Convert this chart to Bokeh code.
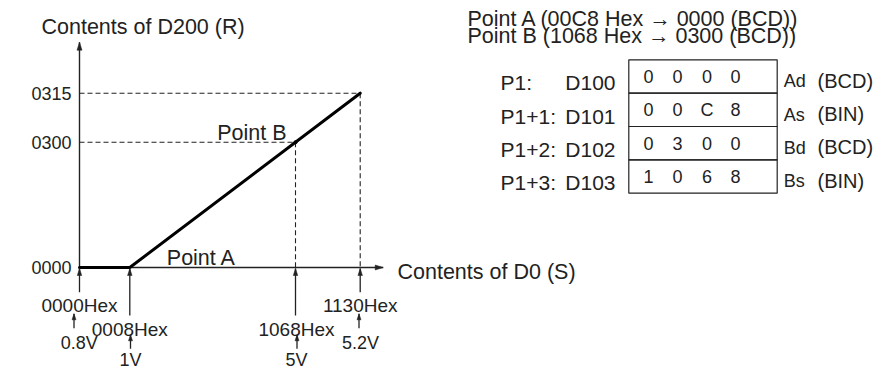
from bokeh.plotting import figure
from bokeh.models import Range1d
from bokeh.core.properties import value
from bokeh.embed import file_html
from bokeh.resources import INLINE

# ---------------- data ----------------
y_axis_title = "Contents of D200 (R)"
x_axis_title = "Contents of D0 (S)"
y_tick_labels = ["0000", "0300", "0315"]            # output levels (BCD)
hex_labels = ["0000Hex", "0008Hex", "1068Hex", "1130Hex"]
volt_labels = ["0.8V", "1V", "5V", "5.2V"]
curve_x_idx = [0, 1, 3]                              # conversion line (marker index)
curve_y_idx = [0, 0, 2]                              # conversion line (level index)
pointB_idx = (2, 1)
point_labels = ["Point A", "Point B"]
header_lines = ["Point A (00C8 Hex \u2192 0000 (BCD))",
                "Point B (1068 Hex \u2192 0300 (BCD))"]
reg_p = ["P1:", "P1+1:", "P1+2:", "P1+3:"]
reg_d = ["D100", "D101", "D102", "D103"]
reg_vals = [["0", "0", "0", "0"], ["0", "0", "C", "8"],
            ["0", "3", "0", "0"], ["1", "0", "6", "8"]]
reg_abbr = ["Ad", "As", "Bd", "Bs"]
reg_type = ["(BCD)", "(BIN)", "(BCD)", "(BIN)"]

# ---------------- layout ----------------
W, H = 884, 370
FONT = "Liberation Sans"
TXT = "#222222"
LINE = "#222222"
X_MARK = [79.0, 129.3, 295.0, 359.7]
Y_LEVEL = [267.0, 141.7, 92.7]
AX_X0, AX_Y0 = 79.0, 267.0
Y_AXIS_TOP = 41.7
X_AXIS_END = 382.7
BASE_SHIFT = 0.33   # empirical baseline correction (em)

p = figure(width=W, height=H, output_backend="svg", toolbar_location=None,
           x_range=Range1d(0, W), y_range=Range1d(H, 0),
           x_axis_type=None, y_axis_type=None, min_border=0,
           outline_line_color=None, background_fill_color="white",
           border_fill_color="white")
p.xgrid.visible = False
p.ygrid.visible = False


def txt(xs, ys, texts, size, align="left"):
    s = float(size.replace("px", ""))
    ys2 = [y - BASE_SHIFT * s for y in ys]
    p.text(x=xs, y=ys2, text=texts, text_font=value(FONT), text_font_size=size,
           text_align=align, text_baseline="alphabetic", text_color=TXT)


seg = {"x0": [], "y0": [], "x1": [], "y1": []}
heads = {"xs": [], "ys": []}


def arrow(x0, y0, x1, y1, hl, hw):
    seg["x0"].append(x0); seg["y0"].append(y0)
    seg["x1"].append(x1); seg["y1"].append(y1)
    dx, dy = x1 - x0, y1 - y0
    n = (dx * dx + dy * dy) ** 0.5
    ux, uy = dx / n, dy / n
    bx, by = x1 - ux * hl, y1 - uy * hl
    heads["xs"].append([x1, bx - uy * hw / 2, bx + uy * hw / 2])
    heads["ys"].append([y1, by + ux * hw / 2, by - ux * hw / 2])


# axes
arrow(AX_X0, AX_Y0 + 0.5, AX_X0, Y_AXIS_TOP, 8, 5)
arrow(AX_X0, AX_Y0, X_AXIS_END, AX_Y0, 8, 5)
p.segment(x0=seg["x0"], y0=seg["y0"], x1=seg["x1"], y1=seg["y1"],
          line_color=LINE, line_width=1.4)
p.patches(xs=heads["xs"], ys=heads["ys"], fill_color=LINE, line_color=LINE, line_width=0.5)

# dashed guides
gx0 = [AX_X0, AX_X0, X_MARK[2], X_MARK[3]]
gy0 = [Y_LEVEL[2], Y_LEVEL[1], Y_LEVEL[1], Y_LEVEL[2]]
gx1 = [X_MARK[3], X_MARK[2], X_MARK[2], X_MARK[3]]
gy1 = [Y_LEVEL[2], Y_LEVEL[1], AX_Y0, AX_Y0]
p.segment(x0=gx0, y0=gy0, x1=gx1, y1=gy1, line_color=LINE, line_width=1.1,
          line_dash="5 3")

# conversion line
cx = [X_MARK[i] for i in curve_x_idx]
cy = [Y_LEVEL[j] for j in curve_y_idx]
p.line(cx, cy, line_color="black", line_width=3, line_cap="round", line_join="round")
p.scatter([X_MARK[pointB_idx[0]]], [Y_LEVEL[pointB_idx[1]]], size=4,
          fill_color="black", line_color=None)

# marker arrows below the x axis
seg = {"x0": [], "y0": [], "x1": [], "y1": []}
heads = {"xs": [], "ys": []}
hex_base = [311.7, 335.0, 335.0, 311.7]
for i, xm in enumerate(X_MARK):
    arrow(xm, hex_base[i] - 20, xm, AX_Y0 + 1, 7, 4.5)
small_x = [73.5, 130.0, 296.5, 358.5]
small_y0 = [327.7, 348.3, 348.3, 327.7]
small_y1 = [313.3, 334.3, 334.3, 313.3]
for i in range(4):
    arrow(small_x[i], small_y0[i], small_x[i], small_y1[i], 6, 4)
p.segment(x0=seg["x0"], y0=seg["y0"], x1=seg["x1"], y1=seg["y1"],
          line_color=LINE, line_width=1.3)
p.patches(xs=heads["xs"], ys=heads["ys"], fill_color=LINE, line_color=LINE, line_width=0.5)

# axis texts
txt([41.0], [33.5], [y_axis_title], "21.5px")
txt([397.0], [278.3], [x_axis_title], "21.5px")
txt([71.0] * 3, [y + 6.4 for y in Y_LEVEL], y_tick_labels, "18px", "right")
txt([X_MARK[1] + 37], [AX_Y0 - 2], [point_labels[0]], "21.5px")
txt([X_MARK[2] - 9], [Y_LEVEL[1] - 1.7], [point_labels[1]], "21.5px", "right")
txt([X_MARK[0], X_MARK[1], X_MARK[2] + 1, X_MARK[3]], hex_base, hex_labels, "19px", "center")
txt([78.7, 130.0, 296.0, 360.0], [348.3, 365.0, 365.0, 348.3], volt_labels, "18px", "center")

# header lines
txt([467.0, 467.0], [25.3, 42.3], header_lines, "21.5px")

# register table
BOX_L, BOX_R, BOX_T, ROW_H = 628.3, 776.7, 59.3, 33.35
tops = [BOX_T + i * ROW_H for i in range(4)]
bots = [t + ROW_H for t in tops]
p.quad(left=[BOX_L] * 4, right=[BOX_R] * 4, top=tops, bottom=bots,
       fill_color=None, line_color=LINE, line_width=1.2)
COL_X = [648.0, 677.0, 706.5, 735.0]
dx, dy, dt = [], [], []
for r, vals in enumerate(reg_vals):
    for c, v in enumerate(vals):
        dx.append(COL_X[c]); dy.append(bots[r] - 10.9); dt.append(v)
txt(dx, dy, dt, "18px", "center")
txt([500.0] * 4, [b - 3.3 for b in bots], reg_p, "21px")
txt([615.0] * 4, [b - 3.3 for b in bots], reg_d, "21px", "right")
txt([783.3] * 4, [b - 6.0 for b in bots], reg_abbr, "18px")
txt([817.0] * 4, [b - 6.0 for b in bots], reg_type, "20px")

open("out.html", "w").write(file_html(p, INLINE))
